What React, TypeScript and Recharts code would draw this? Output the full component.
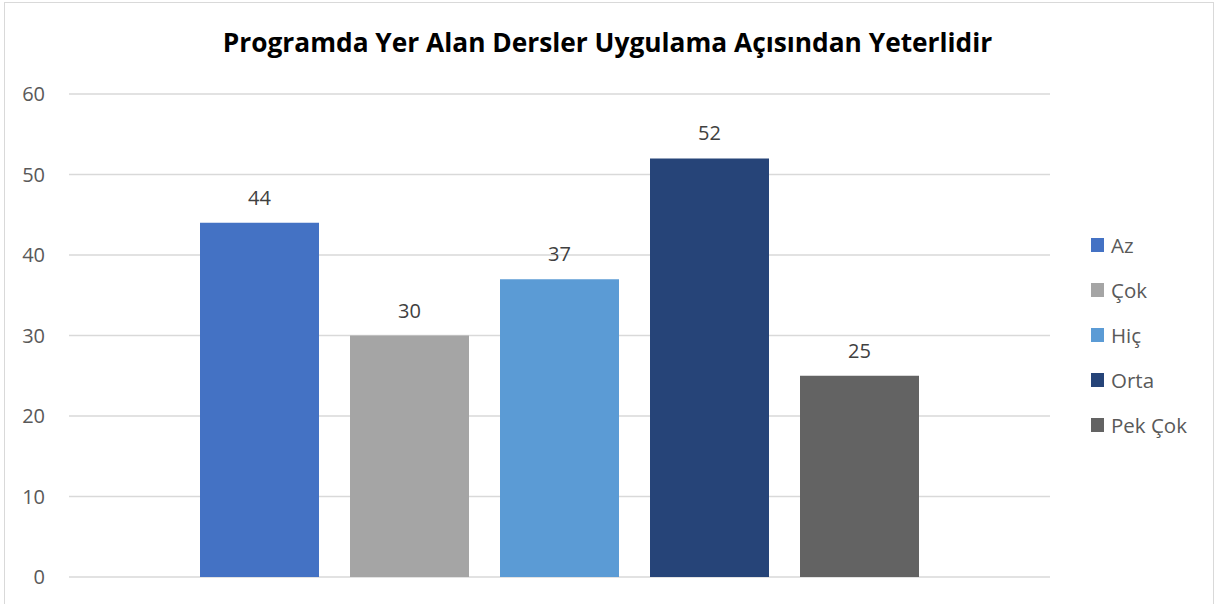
import { BarChart, Bar, YAxis, XAxis, CartesianGrid, LabelList } from 'recharts';

const title = 'Programda Yer Alan Dersler Uygulama Açısından Yeterlidir';
const seriesNames = ['Az', 'Çok', 'Hiç', 'Orta', 'Pek Çok'];
const seriesValues = [44, 30, 37, 52, 25];
const yTicks = [0, 10, 20, 30, 40, 50, 60];

const COLORS = ['#4472C4', '#A5A5A5', '#5B9BD5', '#264478', '#636363'];
const FONT = '"Open Sans", "Noto Sans", sans-serif';

const row: Record<string, string | number> = { name: '' };
seriesNames.forEach((s, i) => { row[s] = seriesValues[i]; });
const chartData = [row];

export default function App() {
  return (
    <div style={{ position: 'absolute', left: 0, top: 0, width: 1215, height: 604, overflow: 'hidden', background: '#fff', fontFamily: FONT }}>
      <div style={{ position: 'absolute', left: 4, top: 2, width: 1208, height: 700, border: '1px solid #d9d9d9' }} />
      <div style={{ position: 'absolute', left: 0, top: 24, width: 1215, textAlign: 'center', fontSize: 26.3, fontWeight: 700, color: '#000', lineHeight: 'normal', whiteSpace: 'nowrap' }}>
        {title}
      </div>
      <div style={{ position: 'absolute', left: 0, top: 0 }}>
        <BarChart width={1215} height={604} data={chartData} margin={{ top: 94, right: 165, bottom: 27, left: 0 }} barGap={31}>
          <CartesianGrid vertical={false} stroke="#d9d9d9" strokeWidth={1.5} />
          <XAxis dataKey="name" hide />
          <YAxis
            width={69}
            domain={[0, 60]}
            ticks={yTicks}
            axisLine={false}
            tickLine={false}
            tickMargin={18}
            tick={{ fontSize: 20, fill: '#595959', fontFamily: FONT }}
          />
          {seriesNames.map((s, i) => (
            <Bar key={s} dataKey={s} fill={COLORS[i]} barSize={119} isAnimationActive={false}>
              <LabelList dataKey={s} position="top" offset={18} style={{ fontSize: 20, fill: '#404040', fontFamily: FONT }} />
            </Bar>
          ))}
        </BarChart>
      </div>
      {seriesNames.map((s, i) => (
        <div key={s}>
          <div style={{ position: 'absolute', left: 1091, top: 238 + i * 45, width: 13, height: 14, background: COLORS[i] }} />
          <div style={{ position: 'absolute', left: 1111, top: 231 + i * 45, fontSize: 20.5, color: '#595959', lineHeight: 'normal', whiteSpace: 'nowrap' }}>
            {s}
          </div>
        </div>
      ))}
    </div>
  );
}
